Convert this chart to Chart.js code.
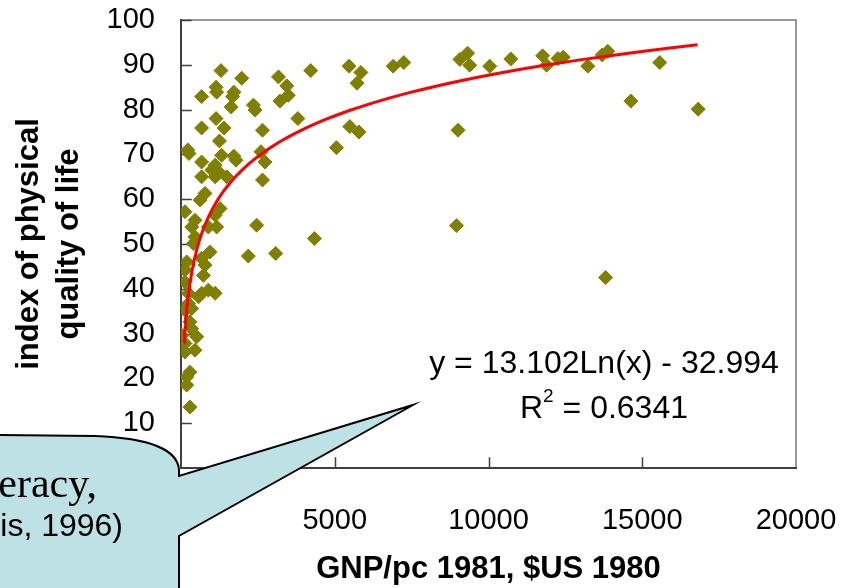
<!DOCTYPE html>
<html lang="en">
<head>
<meta charset="UTF-8">
<title>Physical quality of life vs GNP per capita</title>
<script src="https://cdn.jsdelivr.net/npm/chart.js"></script>
<style>
    body { margin: 0; background: #fff; }
    #wrap { width: 857px; height: 588px; }
</style>
</head>
<body>
<div id="wrap"><canvas id="chart" width="857" height="588"></canvas></div>
<script>
    // GNP per capita 1981 ($US 1980) and PQLI, one entry per country
    const gnp = [
        1300, 1975, 3170, 4220, 3440, 3490, 3220, 1140, 1160, 670,
        1720, 1680, 1630, 2355, 2410, 1140, 670, 1400, 2650, 3800,
        1250, 220, 260, 670, 1320, 1720, 1790, 2600, 2730, 1110,
        1000, 1220, 670, 1490, 2650, 1110, 780, 620, 130, 1270,
        1110, 455, 350, 890, 1160, 2460, 4340, 455, 400, 940,
        2190, 3080, 185, 670, 780, 130, 730, 130, 240, 670,
        1110, 890, 240, 570, 130, 350, 290, 350, 30, 510,
        130, 455, 130, 290, 185, 185, 290, 5465, 5850, 5725,
        6900, 7245, 9070, 9320, 9390, 10040, 5490, 5790, 5055, 9010,
        8960, 10725, 11760, 11890, 12260, 12430, 13230, 13700, 13880, 15570,
        14630, 16820, 13810
    ];
    const pqli = [
        88.7, 87.0, 87.3, 88.7, 85.3, 83.2, 81.9, 85.0, 83.9, 82.9,
        83.9, 82.9, 80.6, 81.0, 79.9, 78.0, 75.9, 75.9, 75.4, 78.0,
        73.0, 71.0, 70.2, 68.3, 69.8, 69.6, 68.7, 70.6, 68.3, 67.6,
        66.5, 66.1, 65.0, 65.0, 64.3, 65.0, 61.3, 59.8, 57.2, 57.9,
        56.4, 55.3, 53.8, 53.8, 53.8, 54.2, 51.2, 51.6, 50.1, 48.2,
        47.3, 47.9, 46.0, 46.8, 45.3, 44.2, 43.0, 41.5, 39.0, 39.0,
        39.0, 39.7, 36.7, 38.2, 35.2, 35.6, 32.6, 31.1, 29.6, 29.3,
        27.8, 26.3, 25.9, 21.4, 20.3, 18.5, 13.6, 89.7, 88.3, 85.9,
        89.7, 90.5, 91.2, 92.6, 89.9, 89.7, 76.2, 75.0, 71.5, 75.4,
        54.1, 91.3, 92.0, 89.9, 91.4, 91.7, 89.7, 92.2, 93.0, 90.5,
        81.9, 80.1, 42.5
    ];

    // axis settings
    const xMin = 0, xMax = 20000, xStep = 5000;
    const yMin = 0, yMax = 100, yStep = 10;

    // logarithmic trendline as printed on the chart: y = a*ln(x) + b
    const fitA = 13.102;
    const fitB = -32.994;
    const fitR2 = 0.6341;
    const fitFrom = 105, fitTo = 16800;

    const points = gnp.map((g, i) => ({ x: g, y: pqli[i] }));

    const trend = [];
    for (let i = 0; i <= 100; i++) {
        const x = fitFrom * Math.pow(fitTo / fitFrom, i / 100);
        trend.push({ x: x, y: fitA * Math.log(x) + fitB });
    }

    const FONT = "'Liberation Sans', Arial, sans-serif";

    // keep the plot area where the layout padding puts it
    function noLabelPadding(scale) {
        scale.paddingTop = 0;
        scale.paddingBottom = 0;
        scale.paddingLeft = 0;
        scale.paddingRight = 0;
    }

    // plot frame, inward tick marks, equation and callout
    const framePlugin = {
        id: 'frame',
        beforeDatasetsDraw(chart) {
            const { ctx, chartArea: a, scales } = chart;
            ctx.save();
            ctx.lineCap = 'square';
            ctx.lineWidth = 2;
            ctx.strokeStyle = '#999999';
            ctx.beginPath();
            ctx.moveTo(a.left, a.top);
            ctx.lineTo(a.right, a.top);
            ctx.lineTo(a.right, a.bottom);
            ctx.stroke();

            ctx.strokeStyle = '#404040';
            ctx.beginPath();
            ctx.moveTo(a.left, a.top);
            ctx.lineTo(a.left, a.bottom);
            ctx.lineTo(a.right, a.bottom);
            ctx.stroke();

            ctx.lineWidth = 1.5;
            ctx.beginPath();
            for (let v = yMin + yStep; v <= yMax; v += yStep) {
                const py = Math.round(scales.y.getPixelForValue(v)) + 0.5;
                ctx.moveTo(a.left, py);
                ctx.lineTo(a.left + 10, py);
            }
            for (let v = xMin + xStep; v < xMax; v += xStep) {
                const px = Math.round(scales.x.getPixelForValue(v)) + 0.5;
                ctx.moveTo(px, a.bottom);
                ctx.lineTo(px, a.bottom - 10);
            }
            ctx.stroke();
            ctx.restore();
        },
        afterDraw(chart) {
            const ctx = chart.ctx;
            ctx.save();

            // trendline equation
            ctx.fillStyle = '#000';
            ctx.font = '32px ' + FONT;
            ctx.textBaseline = 'alphabetic';
            ctx.textAlign = 'center';
            ctx.fillText('y = ' + fitA.toFixed(3) + 'Ln(x) - ' + Math.abs(fitB).toFixed(3), 604, 373);

            const rest = ' = ' + fitR2.toFixed(4);
            ctx.textAlign = 'left';
            const wR = ctx.measureText('R').width;
            const wRest = ctx.measureText(rest).width;
            ctx.font = '19px ' + FONT;
            const w2 = ctx.measureText('2').width;
            const x0 = 604 - (wR + w2 + wRest) / 2;
            ctx.font = '32px ' + FONT;
            ctx.fillText('R', x0, 418);
            ctx.fillText(rest, x0 + wR + w2, 418);
            ctx.font = '19px ' + FONT;
            ctx.fillText('2', x0 + wR, 402);

            // speech-bubble callout, bottom left
            ctx.beginPath();
            ctx.moveTo(-10, 435);
            ctx.lineTo(95, 436);
            ctx.bezierCurveTo(150, 438, 178, 450, 179, 470);
            ctx.lineTo(179, 476);
            ctx.lineTo(413, 405);
            ctx.lineTo(179, 536);
            ctx.lineTo(179, 600);
            ctx.lineTo(-10, 600);
            ctx.closePath();
            ctx.fillStyle = '#bde1e4';
            ctx.fill();
            ctx.lineWidth = 2;
            ctx.strokeStyle = '#000';
            ctx.stroke();

            ctx.fillStyle = '#000';
            ctx.textAlign = 'right';
            ctx.font = "42px 'Liberation Serif', 'Times New Roman', serif";
            ctx.fillText('literacy,', 97, 497);
            ctx.font = '32px ' + FONT;
            ctx.fillText('(Morris, 1996)', 123, 536);
            ctx.restore();
        }
    };

    new Chart(document.getElementById('chart'), {
        type: 'scatter',
        data: {
            datasets: [
                {
                    label: 'PQLI',
                    data: points,
                    pointStyle: 'rectRot',
                    pointRadius: 7,
                    pointBackgroundColor: '#808000',
                    pointBorderColor: '#808000',
                    pointBorderWidth: 1,
                    order: 2
                },
                {
                    type: 'line',
                    label: 'Log. trend',
                    data: trend,
                    borderColor: '#ff0000',
                    borderWidth: 3,
                    pointRadius: 0,
                    fill: false,
                    tension: 0,
                    order: 1
                }
            ]
        },
        options: {
            responsive: false,
            animation: false,
            layout: { padding: { left: 0, right: 61, top: 20, bottom: 0 } },
            plugins: {
                legend: { display: false },
                tooltip: { enabled: false }
            },
            scales: {
                x: {
                    type: 'linear',
                    min: xMin,
                    max: xMax,
                    grid: { display: false, drawTicks: false },
                    border: { display: false },
                    ticks: {
                        stepSize: xStep,
                        color: '#000',
                        padding: 36,
                        maxRotation: 0,
                        font: { family: FONT, size: 29 },
                        callback: v => String(v)
                    },
                    title: {
                        display: true,
                        text: 'GNP/pc 1981, $US 1980',
                        color: '#000',
                        padding: { top: 0, bottom: 0 },
                        font: { family: FONT, size: 31, weight: 'bold' }
                    },
                    afterFit(scale) {
                        scale.height = 120;
                        noLabelPadding(scale);
                    }
                },
                y: {
                    min: yMin,
                    max: yMax,
                    grid: { display: false, drawTicks: false },
                    border: { display: false },
                    ticks: {
                        stepSize: yStep,
                        color: '#000',
                        padding: 26,
                        font: { family: FONT, size: 29 },
                        callback: v => String(v)
                    },
                    title: {
                        display: true,
                        text: ['index of physical', 'quality of life'],
                        color: '#000',
                        padding: { top: 9, bottom: 0 },
                        font: { family: FONT, size: 31, weight: 'bold', lineHeight: 1.3 }
                    },
                    afterFit(scale) {
                        scale.width = 181;
                        noLabelPadding(scale);
                    }
                }
            }
        },
        plugins: [framePlugin]
    });
</script>
</body>
</html>
